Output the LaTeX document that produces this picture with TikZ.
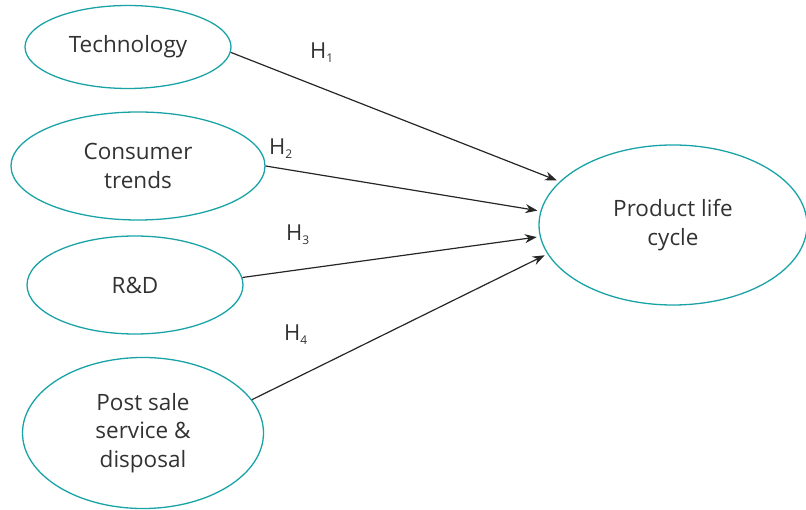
\documentclass[tikz,border=0pt]{standalone}
\usepackage{fontspec}
\setmainfont{Open Sans}
\usetikzlibrary{shapes.geometric, arrows.meta}
\definecolor{ellipseColor}{RGB}{26,163,166}
\definecolor{textColor}{RGB}{50,50,50}
\tikzstyle{diagram} = [x = 1pt, y = -1pt]
\tikzstyle{factor} = [ellipse, draw=ellipseColor, line width=1.3pt, inner sep=0pt, align=center, text=textColor, font=\fontsize{22.5}{28.5}\selectfont]
\tikzstyle{hypothesis} = [-{Stealth[length=12pt, width=9pt]}, color=black!85, line width=1.2pt, shorten >=3pt]
\tikzstyle{hypoText} = [anchor=base west, inner sep=0pt, text=textColor, font=\fontsize{22}{26}\selectfont]
\newcommand{\hyp}[1]{H\raisebox{-4pt}{\fontsize{12}{12}\selectfont #1}}
\begin{document}
\begin{tikzpicture}[diagram]
  \useasboundingbox (0,0) rectangle (806,510);
  % factors on the left
  \node [factor, minimum width=206pt, minimum height=83pt] (tech) at (128,47) {Technology};
  \node [factor, minimum width=254pt, minimum height=108pt] (trends) at (138,166) {Consumer\\trends};
  \node [factor, minimum width=216pt, minimum height=98pt] (rnd) at (135,285) {R\&D};
  \node [factor, minimum width=241pt, minimum height=151pt] (post) at (143,433) {Post sale\\service \&\\disposal};
  % outcome
  \node [factor, minimum width=268pt, minimum height=160pt] (plc) at (673,225) {Product life\\cycle};

  \draw [hypothesis] (tech.-3) -- (plc.159);
  \draw [hypothesis] (trends.east) -- (plc.174);
  \draw [hypothesis] (rnd.4) -- (plc.185);
  \draw [hypothesis] (post.17) -- (plc.193);

  \node [hypoText] (h1) at (310,59) {\hyp{1}};
  \node [hypoText] (h2) at (269,155) {\hyp{2}};
  \node [hypoText] (h3) at (286,241) {\hyp{3}};
  \node [hypoText] (h4) at (284,341) {\hyp{4}};
\end{tikzpicture}
\end{document}
